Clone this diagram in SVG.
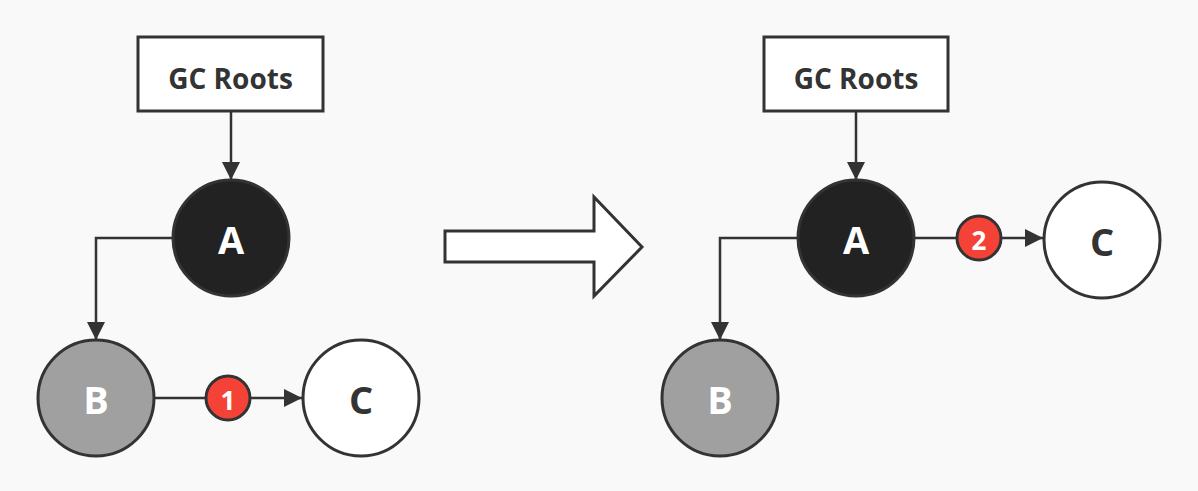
<svg xmlns="http://www.w3.org/2000/svg" width="1198" height="491" viewBox="0 0 1198 491">
<style>
.box{fill:#fff;stroke:#333;stroke-width:3}
.node{stroke:#333;stroke-width:3}
.a{fill:#222}
.b{fill:#a0a0a0}
.c{fill:#fff}
.badge{fill:#f44336;stroke:#333;stroke-width:3}
.edge{fill:none;stroke:#333;stroke-width:2.5}
.t{font-family:"Open Sans","Noto Sans","Liberation Sans",sans-serif;font-weight:bold;text-anchor:middle;dominant-baseline:central}
.lbl{font-size:28px;fill:#333}
.big{font-size:38px}
.num{font-size:26px;fill:#fff}
</style>
<defs>
<marker id="ah" viewBox="0 0 10 10" refX="10" refY="5" markerWidth="22" markerHeight="18" markerUnits="userSpaceOnUse" orient="auto">
<path d="M0,0 L10,5 L0,10 Z" fill="#333"/>
</marker>
</defs>
<rect width="1198" height="491" fill="#f9f9f9"/>
<g id="connectors">
<path class="edge" d="M231,111 V180" marker-end="url(#ah)"/>
<path class="edge" d="M172,238 H96 V340" marker-end="url(#ah)"/>
<path class="edge" d="M155,398 H302" marker-end="url(#ah)"/>
<path class="edge" d="M856,111 V180" marker-end="url(#ah)"/>
<path class="edge" d="M797,238 H720 V340" marker-end="url(#ah)"/>
<path class="edge" d="M914,238 H1043" marker-end="url(#ah)"/>
</g>
<g id="big-arrow">
<path d="M445,231 H594 V197 L642,247 L594,296 V262 H445 Z" fill="#fff" stroke="#333" stroke-width="3" stroke-linejoin="miter"/>
</g>
<g id="gc-roots-left">
<rect class="box" x="138" y="37" width="185" height="74"/>
<text class="t lbl" x="230.5" y="78">GC Roots</text>
</g>
<g id="node-a-left">
<circle class="node a" cx="231" cy="238" r="58"/>
<text class="t big" x="231" y="239" fill="#fff">A</text>
</g>
<g id="node-b-left">
<circle class="node b" cx="96" cy="398" r="58"/>
<text class="t big" x="96" y="399" fill="#fff">B</text>
</g>
<g id="node-c-left">
<circle class="node c" cx="361" cy="398" r="58"/>
<text class="t big" x="361" y="399" fill="#333">C</text>
</g>
<g id="badge-1">
<circle class="badge" cx="228" cy="398" r="22"/>
<text class="t num" x="228" y="400">1</text>
</g>
<g id="gc-roots-right">
<rect class="box" x="764" y="37" width="184" height="74"/>
<text class="t lbl" x="856" y="78">GC Roots</text>
</g>
<g id="node-a-right">
<circle class="node a" cx="856" cy="238" r="58"/>
<text class="t big" x="856" y="239" fill="#fff">A</text>
</g>
<g id="node-b-right">
<circle class="node b" cx="720" cy="398" r="58"/>
<text class="t big" x="720" y="399" fill="#fff">B</text>
</g>
<g id="node-c-right">
<circle class="node c" cx="1102" cy="240" r="58"/>
<text class="t big" x="1102" y="241" fill="#333">C</text>
</g>
<g id="badge-2">
<circle class="badge" cx="979" cy="238" r="22"/>
<text class="t num" x="979" y="240">2</text>
</g>
</svg>
